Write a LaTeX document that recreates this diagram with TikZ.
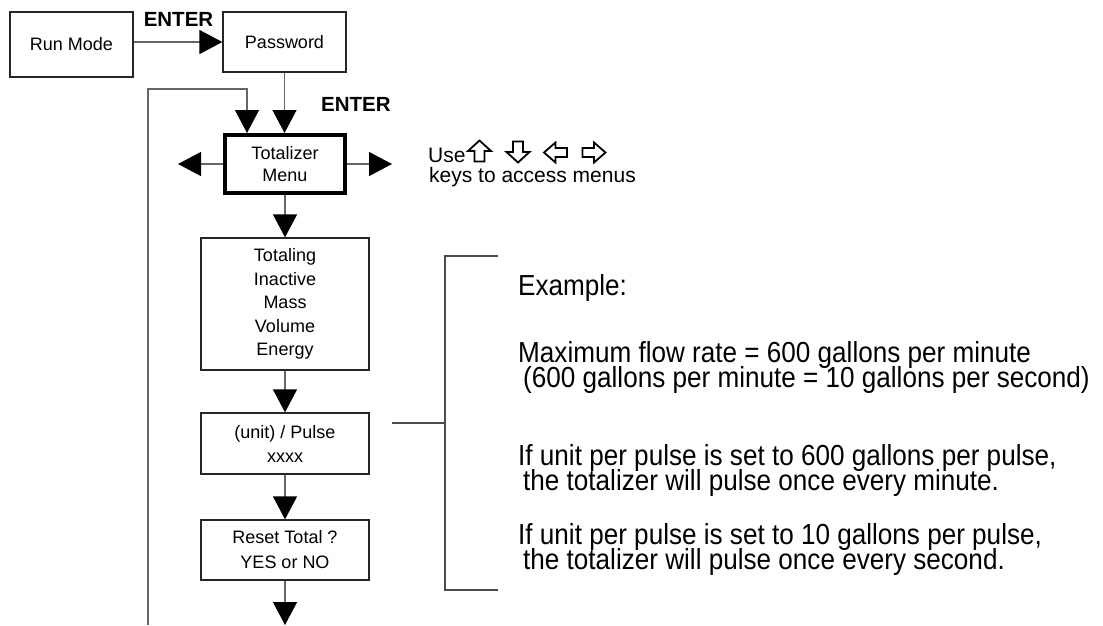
\documentclass[tikz,border=0pt]{standalone}
\usepackage{fontspec}
\setmainfont{Liberation Sans}
\newfontfamily\narrowfont[FakeStretch=0.90]{Liberation Sans}
\usetikzlibrary{arrows.meta}
\newcommand\twolines[2]{\vtop{\baselineskip=25pt\lineskiplimit=-1000pt\lineskip=0pt
  \hbox{#1}\hbox{\hspace{5pt}#2}}}
\begin{document}
\begin{tikzpicture}[x=1pt,y=-1pt,
  box/.style={draw=black!85, line width=1.3pt, fill=white, inner sep=0pt, align=center,
              font=\fontsize{18}{23.5}\selectfont},
  conn/.style={draw=black!60, line width=1.3pt, -{Triangle[length=23pt,width=24pt,color=black]}},
  brk/.style={draw=black!70, line width=1.2pt},
  hdr/.style={inner sep=0pt, font=\fontsize{20.5}{24}\bfseries\selectfont},
  ex/.style={anchor=base west, inner sep=0pt, font=\narrowfont\fontsize{29}{25}\selectfont},
  keyarrow/.style={draw=black, line width=1.8pt, line join=miter}]
\useasboundingbox (0,0) rectangle (1103,625);

% boxes
\node[box, minimum width=123, minimum height=65] (run) at (71.5,44.5) {Run Mode};
\node[box, minimum width=123, minimum height=60] (pass) at (284.5,42) {Password};
\node[box, line width=4pt, draw=black, minimum width=120, minimum height=58,
      font=\fontsize{18}{22}\selectfont] (tot) at (285,164) {Totalizer\\Menu};
\node[box, minimum width=168, minimum height=132] (ting) at (285,304) {Totaling\\Inactive\\Mass\\Volume\\Energy};
\node[box, minimum width=168, minimum height=61, font=\fontsize{18}{24}\selectfont] (unit) at (285,443.5) {(unit) / Pulse\\xxxx};
\node[box, minimum width=168, minimum height=60, font=\fontsize{18}{25}\selectfont] (reset) at (285,550) {Reset Total ?\\YES or NO};

% coordinates
\coordinate (loopb) at (148,625);
\coordinate (loopt) at (148,89);
\coordinate (loopr) at (247,89);
\coordinate (lt) at (178,164);
\coordinate (rt) at (392,164);
\coordinate (bot) at (285,625);

% connectors
\draw[conn] (run.east |- pass.west) -- (pass.west);
\draw[conn] (pass.south) -- (pass.south |- tot.north);
\draw[conn] (loopb) -- (loopt) -- (loopr) -- (loopr |- tot.north);
\draw[conn] (tot.west) -- (lt);
\draw[conn] (tot.east) -- (rt);
\draw[conn] (tot.south) -- (ting.north);
\draw[conn] (ting.south) -- (unit.north);
\draw[conn] (unit.south) -- (reset.north);
\draw[conn] (reset.south) -- (bot);

% labels
\node[hdr, anchor=base] (enter1) at (178.5,26) {ENTER};
\node[hdr, anchor=base west] (enter2) at (321,111) {ENTER};

\node[anchor=base west, inner sep=0pt, font=\fontsize{21}{24}\selectfont] (use) at (428,162) {Use};
\node[anchor=base west, inner sep=0pt, font=\fontsize{21}{24}\selectfont] (keys) at (429,182) {keys to access menus};

% outline arrow keys (up, down, left, right)
\begin{scope}[shift={(479.5,151)}]
  \draw[keyarrow] (0,-10.5) -- (11.5,0) -- (5,0) -- (5,10.5) -- (-5,10.5) -- (-5,0) -- (-11.5,0) -- cycle;
\end{scope}
\begin{scope}[shift={(518,152)}, rotate=180]
  \draw[keyarrow] (0,-10.5) -- (11.5,0) -- (5,0) -- (5,10.5) -- (-5,10.5) -- (-5,0) -- (-11.5,0) -- cycle;
\end{scope}
\begin{scope}[shift={(555.5,152.5)}, rotate=90]
  \draw[keyarrow] (0,-11.5) -- (10,0) -- (4.5,0) -- (4.5,11.5) -- (-4.5,11.5) -- (-4.5,0) -- (-10,0) -- cycle;
\end{scope}
\begin{scope}[shift={(594,152.5)}, rotate=-90]
  \draw[keyarrow] (0,-11.5) -- (10,0) -- (4.5,0) -- (4.5,11.5) -- (-4.5,11.5) -- (-4.5,0) -- (-10,0) -- cycle;
\end{scope}

% bracket
\coordinate (bm) at (392,423);
\coordinate (bmj) at (445,423);
\coordinate (btr) at (498,256);
\coordinate (btl) at (445,256);
\coordinate (bbl) at (445,590);
\coordinate (bbr) at (498,590);
\draw[brk] (btr) -- (btl) -- (bbl) -- (bbr);
\draw[brk] (bm) -- (bmj);

% example text
\node[ex] (ex0) at (518,295) {Example:};
\node[ex] (ex1) at (518,362) {\twolines{Maximum flow rate = 600 gallons per minute}{(600 gallons per minute = 10 gallons per second)}};
\node[ex] (ex2) at (518,465) {\twolines{If unit per pulse is set to 600 gallons per pulse,}{the totalizer will pulse once every minute.}};
\node[ex] (ex3) at (518,544) {\twolines{If unit per pulse is set to 10 gallons per pulse,}{the totalizer will pulse once every second.}};
\end{tikzpicture}
\end{document}
